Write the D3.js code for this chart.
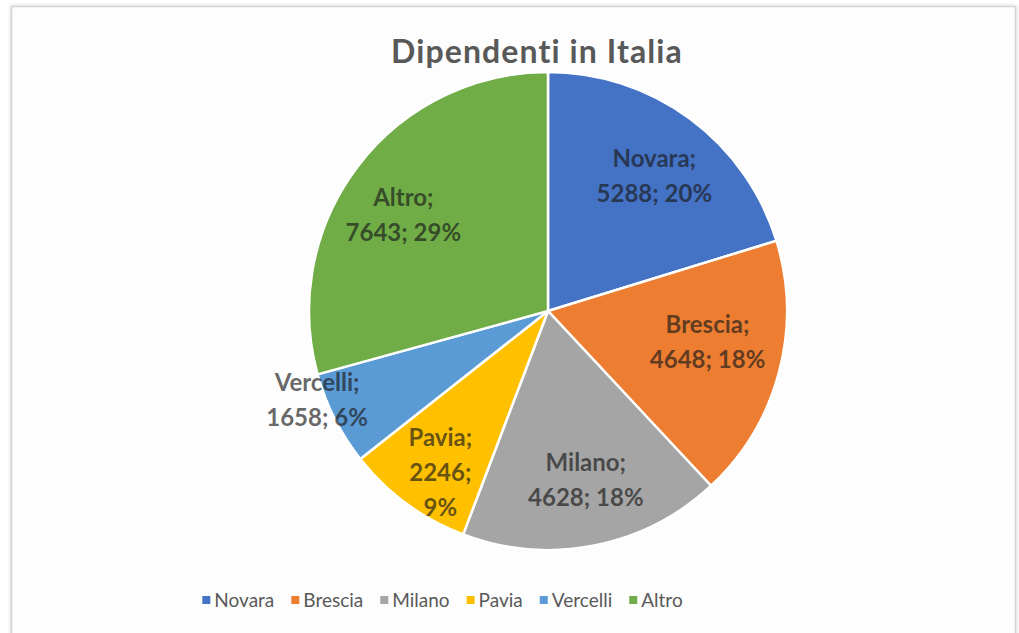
<!DOCTYPE html>
<html>
<head>
<meta charset="utf-8">
<script src="https://cdn.jsdelivr.net/npm/d3@7"></script>
<style>
  html, body { margin: 0; padding: 0; background: #ffffff; }
  svg { display: block; font-family: Lato, "Open Sans", sans-serif; }
</style>
</head>
<body>
<svg id="chart" width="1019" height="633"></svg>
<script>
// Employees by location
const categories = ["Novara", "Brescia", "Milano", "Pavia", "Vercelli", "Altro"];
const values = [5288, 4648, 4628, 2246, 1658, 7643];
const colors = ["#4472C4", "#ED7D31", "#A5A5A5", "#FFC000", "#5B9BD5", "#70AD47"];
const title = "Dipendenti in Italia";

const svg = d3.select("#chart");

// chart frame with soft shadow
const defs = svg.append("defs");
const f = defs.append("filter").attr("id", "shadow").attr("x", "-5%").attr("y", "-5%").attr("width", "110%").attr("height", "110%");
f.append("feDropShadow").attr("dx", 0).attr("dy", 0).attr("stdDeviation", 1.5).attr("flood-color", "#000").attr("flood-opacity", 0.25);

svg.append("rect")
  .attr("x", 11.5).attr("y", 6.5).attr("width", 1004).attr("height", 640)
  .attr("fill", "#fdfdfd").attr("stroke", "#d4d4d4").attr("stroke-width", 1.5)
  .attr("filter", "url(#shadow)");

svg.append("text")
  .attr("x", 537).attr("y", 63)
  .attr("text-anchor", "middle")
  .attr("font-size", 32).attr("font-weight", 700)
  .attr("letter-spacing", 1.1)
  .attr("fill", "#595959")
  .text(title);

const cx = 548, cy = 311, R = 239;
const total = d3.sum(values);
const data = categories.map((c, i) => ({ name: c, value: values[i], color: colors[i] }));

const pie = d3.pie().value(d => d.value).sort(null);
const arcs = pie(data);
const arc = d3.arc().innerRadius(0).outerRadius(R);

const g = svg.append("g").attr("transform", `translate(${cx},${cy})`);
g.selectAll("path.slice").data(arcs).join("path")
  .attr("class", "slice")
  .attr("d", arc)
  .attr("fill", d => d.data.color)
  .attr("stroke", "#ffffff").attr("stroke-width", 2.5).attr("stroke-linejoin", "round");

// label placement: radial factor and angular nudge (degrees) per slice
const labelPlace = {
  Novara:   { r: 0.72,  da: 1.7 },
  Brescia:  { r: 0.68,  da: -4 },
  Milano:   { r: 0.725, da: -1.5 },
  Pavia:    { r: 0.81,  da: -2.5 },
  Vercelli: { r: 1.035, da: 5.8 },
  Altro:    { r: 0.726, da: -3.8 }
};
const pct = d => Math.round(d.value / total * 100) + "%";
const labelLines = d => {
  if (d.data.name === "Pavia") return [d.data.name + ";", d.data.value + ";", pct(d.data)];
  return [d.data.name + ";", d.data.value + "; " + pct(d.data)];
};

const lh = 35, fs = 24;
arcs.forEach(d => {
  const p = labelPlace[d.data.name];
  const mid = (d.startAngle + d.endAngle) / 2 + p.da * Math.PI / 180;
  const r = R * p.r;
  const x = Math.sin(mid) * r, y = -Math.cos(mid) * r;
  const lines = labelLines(d);
  const t = g.append("text")
    .attr("text-anchor", "middle")
    .attr("font-size", fs).attr("font-weight", 700)
    .attr("fill", "#1a1a1a").attr("fill-opacity", 0.68);
  lines.forEach((ln, i) => {
    t.append("tspan")
      .attr("x", x)
      .attr("y", y + (i - (lines.length - 1) / 2) * lh + fs * 0.36)
      .text(ln);
  });
});

// legend
const legendY = 600;
const lg = svg.append("g");
const items = lg.selectAll("g.item").data(data).join("g").attr("class", "item");
items.append("rect").attr("width", 8).attr("height", 8).attr("y", legendY - 4).attr("fill", d => d.color);
items.append("text")
  .attr("x", 12).attr("y", legendY + 7)
  .attr("font-size", 19).attr("fill", "#595959")
  .text(d => d.name);
const widths = [];
items.each(function () { widths.push(d3.select(this).select("text").node().getComputedTextLength() + 12); });
const gap = 17;
const totalW = d3.sum(widths) + gap * (widths.length - 1);
let xPos = 205 + (475 - totalW) / 2;
items.attr("transform", (d, i) => {
  const tx = xPos; xPos += widths[i] + gap; return `translate(${tx},0)`;
});
</script>
</body>
</html>
